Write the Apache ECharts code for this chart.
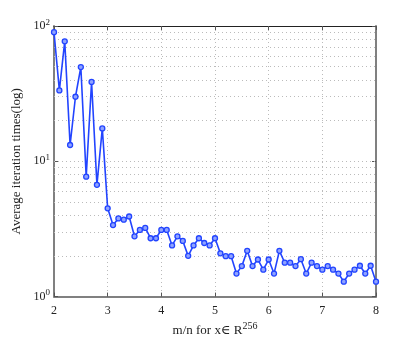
<!DOCTYPE html>
<html><head><meta charset="utf-8">
<script src="https://cdn.jsdelivr.net/npm/echarts@6/dist/echarts.min.js"></script>
<style>html,body{margin:0;padding:0;background:#fff}#c{width:415px;height:342px}</style>
</head><body><div id="c"></div>
<script>
var ratios = [2.0,2.1,2.2,2.3,2.4,2.5,2.6,2.7,2.8,2.9,3.0,3.1,3.2,3.3,3.4,3.5,3.6,3.7,3.8,3.9,4.0,4.1,4.2,4.3,4.4,4.5,4.6,4.7,4.8,4.9,5.0,5.1,5.2,5.3,5.4,5.5,5.6,5.7,5.8,5.9,6.0,6.1,6.2,6.3,6.4,6.5,6.6,6.7,6.8,6.9,7.0,7.1,7.2,7.3,7.4,7.5,7.6,7.7,7.8,7.9,8.0];
var avgIterations = [90,33.4,77,13.2,30,49.7,7.7,38.6,6.7,17.5,4.49,3.38,3.78,3.70,3.91,2.79,3.11,3.22,2.70,2.70,3.11,3.11,2.39,2.79,2.58,2.0,2.39,2.70,2.49,2.39,2.70,2.09,1.99,1.99,1.48,1.68,2.18,1.68,1.88,1.58,1.88,1.48,2.18,1.78,1.78,1.68,1.89,1.48,1.78,1.68,1.58,1.68,1.58,1.48,1.29,1.48,1.58,1.69,1.48,1.69,1.29];
var xTicks = [2,3,4,5,6,7,8];
var yMinorGrid = [2,3,4,5,6,7,8,9,10,20,30,40,50,60,70,80,90];

var serif = '"Liberation Serif","DejaVu Serif",serif';
var chart = echarts.init(document.getElementById('c'), null, {renderer:'canvas'});
var pts = ratios.map(function(x,i){return [x, avgIterations[i]];});
chart.setOption({
  animation:false,
  grid:{left:54, top:26, width:322, height:277},
  xAxis:[{
    type:'value', min:xTicks[0], max:xTicks[xTicks.length-1], interval:1, position:'bottom',
    axisLine:{show:true, lineStyle:{color:'#808080', width:2}},
    axisTick:{show:true, inside:true, length:4, lineStyle:{color:'#555'}},
    axisLabel:{color:'#222', fontFamily:serif, fontSize:12, margin:8},
    splitLine:{show:true, lineStyle:{color:'#bbb', type:[1,3], width:1}},
    name:'m/n for x\u2208 R{sup|256}', nameLocation:'middle', nameGap:23,
    nameTextStyle:{color:'#222', fontFamily:serif, fontSize:13,
      rich:{sup:{fontFamily:serif, fontSize:10, verticalAlign:'top', padding:[0,0,8,0], color:'#222'}}}
  },{
    type:'value', min:2, max:8, interval:1, position:'top',
    axisLine:{show:true, lineStyle:{color:'#222', width:1}},
    axisTick:{show:true, inside:true, length:4, lineStyle:{color:'#555'}},
    axisLabel:{show:false}, splitLine:{show:false}
  }],
  yAxis:[{
    type:'log', logBase:10, min:1, max:100, position:'left',
    axisLine:{show:true, lineStyle:{color:'#808080', width:2}},
    axisTick:{show:true, inside:true, length:4, lineStyle:{color:'#555'}},
    axisLabel:{color:'#222', fontFamily:serif, fontSize:12, margin:4,
      formatter:function(v){return '10{sup|' + Math.round(Math.log10(v)) + '}';},
      rich:{sup:{fontFamily:serif, fontSize:9, verticalAlign:'top', padding:[0,0,7,0], color:'#222'}}},
    splitLine:{show:false},
    name:'Average iteration times(log)', nameLocation:'middle', nameGap:24, nameRotate:90,
    nameTextStyle:{color:'#222', fontFamily:serif, fontSize:13}
  },{
    type:'log', logBase:10, min:1, max:100, position:'right',
    axisLine:{show:true, lineStyle:{color:'#808080', width:2}},
    axisTick:{show:true, inside:true, length:4, lineStyle:{color:'#555'}},
    axisLabel:{show:false}, splitLine:{show:false}
  }],
  series:[{
    type:'line', data:pts, xAxisIndex:0, yAxisIndex:0,
    symbol:'circle', symbolSize:5, showSymbol:true,
    lineStyle:{color:'#2244ff', width:1.6},
    itemStyle:{color:'#8fa3ff', borderColor:'#2244ff', borderWidth:1.3},
    z:5,
    markLine:{silent:true, symbol:'none', label:{show:false},
      lineStyle:{color:'#bbb', type:[1,3], width:1},
      data:yMinorGrid.map(function(v){return {yAxis:v};}), z:1}
  }]
});
</script></body></html>
